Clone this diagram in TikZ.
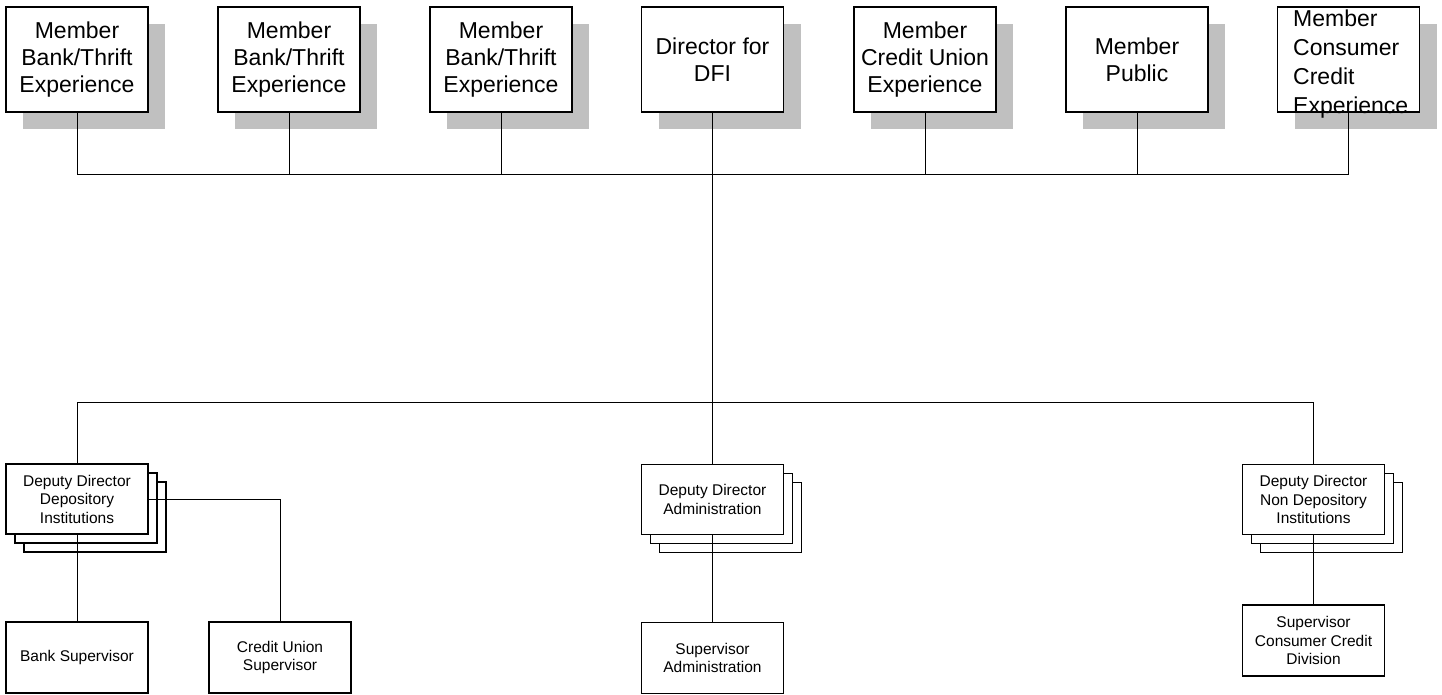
\documentclass[tikz,border=0pt]{standalone}
\usepackage{fontspec}
\setmainfont{Liberation Sans}
\usetikzlibrary{shadows}
\definecolor{ombre}{HTML}{C0C0C0}
\begin{document}
\begin{tikzpicture}[x=1pt,y=-1pt,
  membre/.style={draw,line width=1.2pt,fill=white,minimum width=142pt,minimum height=105pt,inner sep=0pt,
    align=center,font=\fontsize{23}{27}\selectfont,
    drop shadow={shadow xshift=17pt,shadow yshift=-17pt,fill=ombre,opacity=1,draw=none}},
  adjoint/.style={draw,line width=1.2pt,fill=white,minimum width=142pt,minimum height=70pt,inner sep=0pt,
    align=center,font=\fontsize{15.5}{18.5}\selectfont,
    double copy shadow={shadow xshift=9pt,shadow yshift=-9pt,draw=black,fill=white,line width=1.2pt}},
  superv/.style={draw,line width=1.2pt,fill=white,minimum width=142pt,minimum height=71pt,inner sep=0pt,
    align=center,font=\fontsize{15.5}{18.5}\selectfont},
  trait/.style={line width=0.9pt}]
\useasboundingbox (0,0) rectangle (1442,694);

%% les membres en haut
\node[membre] (banque1) at (77,59.5) {Member\\Bank/Thrift\\Experience};
\node[membre] (banque2) at (289,59.5) {Member\\Bank/Thrift\\Experience};
\node[membre] (banque3) at (501,59.5) {Member\\Bank/Thrift\\Experience};
\node[membre] (directeur) at (712.5,59.5) {Director for\\DFI};
\node[membre] (unioncredit) at (925,59.5) {Member\\Credit Union\\Experience};
\node[membre] (public) at (1137,59.5) {Member\\Public};
\node[membre] (credit) at (1348.5,59.5) {};
\node[anchor=north west,inner sep=0pt,align=left,font=\fontsize{23}{29}\selectfont] (creditTexte) at (1293,10)
  {Member\\Consumer\\Credit\\Experience}; %% le texte qui déborde

%% les adjoints
\node[adjoint] (adjDep) at (77,499) {Deputy Director\\Depository\\Institutions};
\node[adjoint] (adjAdm) at (712.5,499.5) {Deputy Director\\Administration};
\node[adjoint] (adjNonDep) at (1313.5,499.5) {Deputy Director\\Non Depository\\Institutions};

%% les superviseurs
\node[superv] (supBanque) at (77,657.5) {Bank Supervisor};
\node[superv] (supUnion) at (280,657.5) {Credit Union\\Supervisor};
\node[superv] (supAdm) at (712.5,658) {Supervisor\\Administration};
\node[superv] (supCredit) at (1313.5,640.5) {Supervisor\\Consumer Credit\\Division};

%% les traits du haut
\draw[trait] (banque1.south) -- ++(0,62) -| (credit.south);
\foreach \n in {banque2,banque3,unioncredit,public}
  \draw[trait] (\n.south) -- ++(0,62);
\draw[trait] (directeur.south) -- (adjAdm.north); %% le trait vertical du milieu

%% les traits du bas
\draw[trait] (adjDep.north) -- ++(0,-61) -| (adjNonDep.north);
\draw[trait] (adjDep.south) -- (supBanque.north);
\draw[trait] (adjDep.east) -| (supUnion.north);
\draw[trait] (adjAdm.south) -- (supAdm.north);
\draw[trait] (adjNonDep.south) -- (supCredit.north);

\end{tikzpicture}
\end{document}
